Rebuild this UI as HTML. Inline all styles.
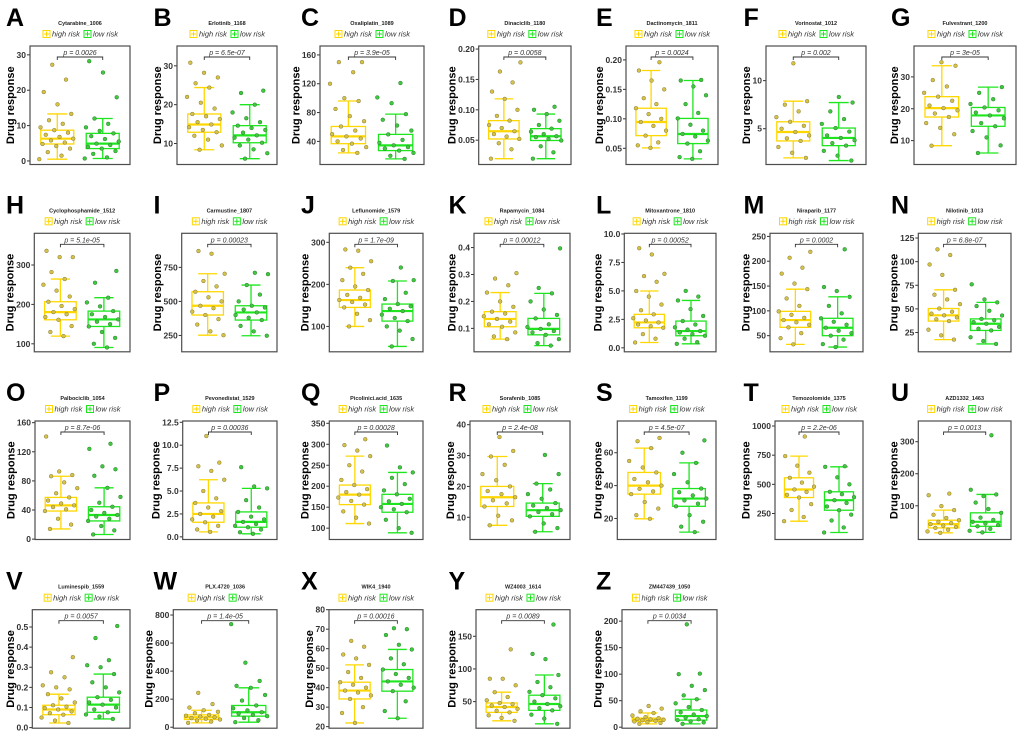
<!DOCTYPE html>
<html><head><meta charset="utf-8"><style>
html,body{margin:0;padding:0;background:#fff;}
svg{display:block;font-family:"Liberation Sans",Arial,sans-serif;}
</style></head><body>
<svg id="fig" width="1020" height="737" viewBox="0 0 1020 737" xmlns="http://www.w3.org/2000/svg"></svg>
<script>
// ---- data (small named arrays) ----
const letters = ["A","B","C","D","E","F","G","H","I","J","K","L","M","N","O","P","Q","R","S","T","U","V","W","X","Y","Z"];
const drugNames = ["Cytarabine_1006","Erlotinib_1168","Oxaliplatin_1089","Dinaciclib_1180","Dactinomycin_1811","Vorinostat_1012","Fulvestrant_1200","Cyclophosphamide_1512","Carmustine_1807","Leflunomide_1579","Rapamycin_1084","Mitoxantrone_1810","Niraparib_1177","Nilotinib_1013","Palbociclib_1054","Pevonedistat_1529","Picolinici.acid_1635","Sorafenib_1085","Tamoxifen_1199","Temozolomide_1375","AZD1332_1463","Luminespib_1559","PLX.4720_1036","WIK4_1940","WZ4003_1614","ZM447439_1050"];
const pValues = ["0.0026","6.5e-07","3.9e-05","0.0058","0.0024","0.002","3e-05","5.1e-05","0.00023","1.7e-09","0.00012","0.00052","0.0002","6.8e-07","8.7e-06","0.00036","0.00028","2.4e-08","4.5e-07","2.2e-06","0.0013","0.0057","1.4e-05","0.00016","0.0089","0.0034"];
const yDomains = [[-1,32.5],[4.6,35.1],[7.9,172.4],[0.010,0.205],[0.0225,0.2236],[1.28,13.6],[2.5,39.7],[79.7,380.5],[130,1000],[39.7,321.4],[0.013,0.453],[-0.35,10.06],[17.5,256.3],[4.6,130],[-0.5,162.3],[-0.29,12.64],[73,355.5],[2.8,41.2],[7.2,79.3],[27,1043],[-5.2,364.6],[-0.003,0.586],[-7,838],[19.2,80],[9.3,190.7],[-1.9,221.6]];
const yTickLabels = [["0","10","20","30"],["10","20","30"],["40","80","120","160"],["0.05","0.10","0.15","0.20"],["0.05","0.10","0.15","0.20"],["5","10"],["10","20","30"],["100","200","300"],["250","500","750"],["100","200","300"],["0.1","0.2","0.3","0.4"],["0.0","2.5","5.0","7.5","10.0"],["50","100","150","200","250"],["25","50","75","100","125"],["0","40","80","120","160"],["0.0","2.5","5.0","7.5","10.0","12.5"],["100","150","200","250","300","350"],["10","20","30","40"],["20","40","60"],["250","500","750","1000"],["100","200","300"],["0.0","0.1","0.2","0.3","0.4","0.5"],["0","200","400","600","800"],["20","30","40","50","60","70","80"],["50","100","150"],["0","50","100","150","200"]];
// box stats [whiskerLow, q1, median, q3, whiskerHigh]
const highBox = [[0.5,4.8,6.3,8.7,13.3],[8.4,12.9,14.9,17.6,24.4],[24,36.8,46.9,60.7,96],[0.0196,0.052,0.0647,0.0822,0.118],[0.0507,0.0715,0.0946,0.118,0.182],[1.97,3.73,4.66,5.72,7.86],[8.4,17.4,20.2,23.8,33.5],[119.5,161,180.5,206.8,264.4],[252,400,468,571,703],[100,145.2,162.7,186.5,239.7],[0.06,0.106,0.135,0.162,0.233],[0.47,1.76,2.23,2.94,4.99],[32.5,66.8,81.5,99,143.7],[17.5,37.1,43.2,50.4,70.2],[14,38.6,46.4,57.3,86.4],[0.54,1.59,2.5,3.7,6.23],[111,156.2,179.9,202.8,271.7],[7.4,13.5,16.5,20,29.7],[19.8,34.8,40,48,62.8],[184,387,456,556,742],[15.6,31,42.7,55,86.5],[0.023,0.064,0.09,0.111,0.166],[31,55,71,88,121],[21.9,34.2,38.5,42.8,51.7],[20.6,33.5,41.8,47.9,64.4],[6.3,10.8,14,17.1,26.7]];
const lowBox = [[0.7,3.5,4.9,7.8,12],[6.1,10.2,12.1,14.6,20],[15.7,27.2,34.5,49.7,77.8],[0.0196,0.0495,0.0565,0.069,0.093],[0.032,0.058,0.0743,0.1007,0.165],[1.69,3.24,4.04,5.07,7.72],[6.1,14.5,17.9,20.4,26.8],[90.7,144,161.9,183,217],[248,363,419,468,620],[52.4,112.7,136.5,153.2,208],[0.036,0.076,0.098,0.137,0.23],[0.35,1.06,1.47,2.35,4.16],[27,50,66,85,128.3],[12.9,27.2,34.3,39.4,56.9],[6.4,25,33.2,44.5,70.5],[0.33,1.05,1.63,2.72,5.29],[89,138,157.8,180.7,232.9],[5.3,10.3,12.3,14.6,20.9],[11.7,27.4,32.1,38.2,53.8],[87,278,364,436,650],[17,36,50,78,135.4],[0.043,0.076,0.114,0.151,0.266],[36,79,107,155,281],[24.3,38.2,43.2,49.3,59.6],[16,36.6,46.4,59.8,90.7],[6.3,13.3,21,32.4,52.7]];
const highPoints = [
[0.5,1.5,2.5,3.5,4.2,4.8,5.2,5.8,6.3,6.8,7.4,8,8.7,9.5,10.5,11.5,13.3,16,19.5,23,27.2],
[8.4,9.5,11,12,12.9,13.5,14.2,14.9,15.5,16.3,17,17.6,19,20.5,22,24.4,25.5,27,28.2,30.8],
[24,28,32,36.8,40,44,46.9,50,55,60.7,68,75,85,96,100,120,136,150,150],
[0.0196,0.035,0.045,0.052,0.056,0.06,0.0647,0.07,0.075,0.0822,0.09,0.1,0.118,0.13,0.145,0.163,0.178],
[0.0507,0.055,0.06,0.0715,0.08,0.088,0.0946,0.1,0.108,0.118,0.125,0.135,0.15,0.165,0.182,0.196],
[1.97,2.5,3.1,3.73,4,4.3,4.66,5,5.3,5.72,6.2,6.8,7.5,7.86,11.8],
[8.4,12,14,15.5,17.4,18.5,19.5,20.2,21,22.5,23.8,25,27,29,33.5,34.6],
[119.5,130,145,161,168,175,180.5,188,196,206.8,220,235,250,264.4,282,320,320,336],
[252,280,330,370,400,425,450,468,500,530,571,610,650,703,850,870],
[100,115,130,145.2,152,158,162.7,168,175,186.5,195,210,225,239.7,255,280,283],
[0.06,0.07,0.085,0.106,0.115,0.125,0.135,0.145,0.155,0.162,0.18,0.2,0.233,0.26,0.285,0.305],
[0.47,0.8,1.2,1.76,1.9,2.05,2.23,2.4,2.6,2.94,3.3,3.8,4.5,4.99,5.8,6.3,6.5,8.2,8.75],
[32.5,45,55,66.8,72,77,81.5,86,92,99,110,125,143.7,155,175,187,207,219],
[17.5,22,28,37.1,39,41,43.2,45,47,50.4,55,60,65,70.2,86,97,107,113],
[14,20,28,38.6,41,44,46.4,49,53,57.3,63,70,78,86.4,88,93,141],
[0.54,0.8,1.2,1.59,1.9,2.2,2.5,2.8,3.2,3.7,4.2,5,6.23,7.2,7.7,8.1,11],
[111,125,140,156.2,165,173,179.9,186,193,202.8,215,235,250,271.7,285,298,312],
[7.4,9,10.5,13.5,14.5,15.5,16.5,17.5,18.5,20,22,24,27,29.7,31.5,36],
[19.8,22,26,30,34.8,36.5,38,40,42,44,48,51,55,62.8,67,69],
[184,220,280,330,387,410,435,456,480,515,556,600,660,742,910],
[15.6,20,25,31,34,38,42.7,46,50,55,62,72,86.5,99,133,138],
[0.023,0.035,0.05,0.064,0.072,0.08,0.09,0.097,0.104,0.111,0.125,0.145,0.166,0.19,0.2,0.21,0.25,0.275,0.35],
[31,40,48,55,60,65,71,76,82,88,100,110,121,140,165,245],
[21.9,27,30,34.2,36,37.5,38.5,40,41.5,42.8,45,48,51.7,55,57,61,64],
[20.6,25,29,33.5,36,39,41.8,44,46,47.9,52,57,64.4,75,85,85,130],
[6.3,8,9.5,10.8,12,13,14,15,16,17.1,19,22,26.7,30,35,40]];
const lowPoints = [
[0.7,1,2,2.8,3.5,4,4.5,4.9,5.5,6.2,7,7.8,8.5,9.5,10.5,12,18,25,28.2],
[6.1,7.5,8.5,9.5,10.2,11,11.5,12.1,12.8,13.5,14,14.6,15.5,16.5,18,20,23,23.6],
[15.7,20,24,27.2,30,32,34.5,38,42,49.7,55,62,70,77.8,93,101,121],
[0.0196,0.03,0.04,0.0495,0.052,0.055,0.0565,0.06,0.064,0.069,0.075,0.082,0.093,0.1,0.105],
[0.032,0.035,0.045,0.058,0.063,0.07,0.0743,0.08,0.09,0.1007,0.11,0.125,0.14,0.155,0.165,0.166],
[1.69,2.2,2.7,3.24,3.5,3.8,4.04,4.3,4.7,5.07,5.5,6,6.8,7.72,8.3],
[6.1,8.5,11,13,14.5,15.5,17,17.9,18.8,19.5,20.4,21.5,23,25,26.8],
[90.7,100,115,130,144,150,156,161.9,168,175,183,195,205,217,255,285],
[248,280,320,363,380,400,419,440,455,468,500,550,620,700,710],
[52.4,70,90,100,112.7,120,128,136.5,142,148,153.2,165,180,208,210,240],
[0.036,0.045,0.06,0.076,0.085,0.09,0.098,0.105,0.115,0.137,0.15,0.17,0.2,0.23,0.25,0.397],
[0.35,0.5,0.8,1.06,1.2,1.35,1.47,1.6,1.8,2.05,2.35,2.8,3.4,4.16,4.5,5],
[27,33,42,50,55,60,66,72,78,85,95,110,128.3,140,148,224],
[12.9,16,20,27.2,29,31,34.3,36,38,39.4,43,48,53,56.9,60,76],
[6.4,12,18,25,28,31,33.2,36,40,44.5,50,58,70.5,87,96,100,124,131],
[0.33,0.5,0.8,1.05,1.2,1.4,1.63,1.9,2.2,2.72,3.2,4,5.29,5.5,7.6],
[89,100,120,138,145,150,157.8,164,170,180.7,190,205,220,232.9,245,297],
[5.3,6.5,8,10.3,11,11.7,12.3,13,13.8,14.6,16,17.5,19,20.9,24,30.2],
[11.7,15,18,22,27.4,29,31,32.1,34,36,38.2,42,47,53.8,60,67.5],
[87,130,190,240,278,310,340,364,390,415,436,500,560,650,655],
[17,22,28,36,40,45,50,56,63,78,90,110,135.4,130,150,320],
[0.043,0.055,0.065,0.076,0.09,0.1,0.114,0.125,0.138,0.151,0.175,0.2,0.225,0.266,0.3,0.31,0.335,0.445,0.505],
[36,50,65,79,88,97,107,120,135,155,190,230,281,295,330,460,735],
[24.3,28,33,38.2,40,41.5,43.2,45,47,49.3,52,55,59.6,62,67,70,70.5],
[16,24,30,36.6,40,43,46.4,50,55,59.8,65,72,80,90.7,115,123,168],
[6.3,9,11,13.3,15,18,21,24,28,32.4,38,45,52.7,60,70,78,100,101,194]];

// ---- layout (positions, not data) ----
const plotLefts = [30,177,320,478.7,626,766,914, 34.3,181.7,329.3,474,624.3,770,918.3, 35,182.7,329.3,470,617.3,775,918.3, 32.3,173.3,329,476,622];
const rowRights = [[130,277,424,571,718,866,1016],[130,277,423,570,716,863,1011],[130,277,423,570,716,863,1011],[130,277,423,570,717,863,1011]];
const rowTops = [46,233.3,421,609.7];
const plotH = 118.5;
const TICK_FS = 8.5;
const HIGH = "#FFD700", LOW = "#1EE61E";

const NS = "http://www.w3.org/2000/svg";
const svg = document.getElementById("fig");
function mk(tag, attrs, parent, text){
  const e = document.createElementNS(NS, tag);
  for (const k in attrs) e.setAttribute(k, attrs[k]);
  if (text !== undefined) e.textContent = text;
  parent.appendChild(e);
  return e;
}
function labW(s){ let w = 0; for (const ch of s) w += (ch === "." ? 0.278 : 0.556); return w * TICK_FS; }

for (let i = 0; i < letters.length; i++) {
  const row = Math.floor(i / 7), col = i % 7;
  const L = plotLefts[i], R = rowRights[row][col], T = rowTops[row], B = T + plotH, W = R - L;
  const dom = yDomains[i];
  const yS = v => B - (v - dom[0]) / (dom[1] - dom[0]) * plotH;
  const xS = g => L + W * (g === 0 ? 0.6 / 2.2 : 1.6 / 2.2);
  const cx = (L + R) / 2;

  const g = mk("g", {}, svg);
  
  

  const lt = mk("text", {x: 6 + 147.5 * col, y: T - 20, "font-size": 25, "font-weight": "bold", fill: "#000"}, g, letters[i]);
  
  

  const tt = mk("text", {x: cx, y: T - 21, "font-size": 5.5, "font-weight": "bold", "text-anchor": "middle", fill: "#222"}, g, drugNames[i]);
  
  

  // legend
  const lg = mk("g", {}, g);
  
  
  const lx0 = cx - 37, ly = T - 12;
  [[HIGH, "high risk", 0], [LOW, "low risk", 41]].forEach(([c, lab, off]) => {
    const kx = lx0 + off;
    const ent = mk("g", {}, lg);
    
    
    mk("rect", {x: kx, y: ly - 3.5, width: 7, height: 7, fill: "none", stroke: c, "stroke-width": 1}, ent);
    mk("line", {x1: kx + 1, x2: kx + 6, y1: ly, y2: ly, stroke: c, "stroke-width": 1}, ent);
    mk("line", {x1: kx + 3.5, x2: kx + 3.5, y1: ly - 2.5, y2: ly + 2.5, stroke: c, "stroke-width": 1}, ent);
    mk("text", {x: kx + 9, y: ly + 2.7, "font-size": 7.5, "font-style": "italic", fill: "#333"}, ent, lab);
  });

  // y axis title placed left of widest tick label
  const maxW = Math.max(...yTickLabels[i].map(labW));
  const tx = Math.max(10, L - 4 - maxW - 2.5);
  const yt = mk("text", {x: 0, y: 0, "font-size": 11, "font-weight": "bold", "text-anchor": "middle", fill: "#000",
    transform: `translate(${tx},${(T + B) / 2}) rotate(-90)`}, g, "Drug response");
  
  

  // ticks
  yTickLabels[i].forEach(s => {
    const v = parseFloat(s), y = yS(v);
    mk("line", {x1: L - 3, x2: L, y1: y, y2: y, stroke: "#333", "stroke-width": 1}, g);
    const tl = mk("text", {x: L - 4, y: y + 3, "font-size": TICK_FS, "font-weight": "bold", "text-anchor": "end", fill: "#333"}, g, s);
    
    
  });

  // boxes
  [[highBox[i], HIGH, 0, "high"], [lowBox[i], LOW, 1, "low"]].forEach(([bx, c, gi, nm]) => {
    const x = xS(gi), bw = W * 0.33, cw = W * 0.2;
    const bg = mk("g", {stroke: c, "stroke-width": 1.3, fill: "none"}, g);
    
    
    mk("line", {x1: x, x2: x, y1: yS(bx[0]), y2: yS(bx[1])}, bg);
    mk("line", {x1: x, x2: x, y1: yS(bx[3]), y2: yS(bx[4])}, bg);
    mk("line", {x1: x - cw / 2, x2: x + cw / 2, y1: yS(bx[0]), y2: yS(bx[0])}, bg);
    mk("line", {x1: x - cw / 2, x2: x + cw / 2, y1: yS(bx[4]), y2: yS(bx[4])}, bg);
    mk("rect", {x: x - bw / 2, y: yS(bx[3]), width: bw, height: yS(bx[1]) - yS(bx[3])}, bg);
    mk("line", {x1: x - bw / 2, x2: x + bw / 2, y1: yS(bx[2]), y2: yS(bx[2]), "stroke-width": 2.2}, bg);
  });

  // points
  [[highPoints[i], 0, "#d6c245", "#857a3a", "high"], [lowPoints[i], 1, "#3fc93f", "#2b7d2b", "low"]].forEach(([pts, gi, f, s, nm]) => {
    const pg = mk("g", {fill: f, stroke: s, "stroke-width": 0.5}, g);
    
    
    pts.forEach((v, k) => {
      const j = (((k * 0.6180339 + i * 0.37) % 1) - 0.5) * W * 0.36;
      mk("circle", {cx: xS(gi) + j, cy: yS(v), r: 1.9}, pg);
    });
  });

  // p-value bracket
  const by = T + 11;
  const pb = mk("path", {d: `M${xS(0)},${by + 3}V${by}H${xS(1)}V${by + 3}`, fill: "none", stroke: "#333", "stroke-width": 0.9}, g);
  
  
  const pt = mk("text", {x: cx, y: by - 2, "font-size": 7, "font-style": "italic", "text-anchor": "middle", fill: "#333"}, g, "p = " + pValues[i]);
  
  

  // frame
  const fr = mk("rect", {x: L, y: T, width: W, height: plotH, fill: "none", stroke: "#4d4d4d", "stroke-width": 1.2}, g);
  
  
}
</script>
</body></html>
